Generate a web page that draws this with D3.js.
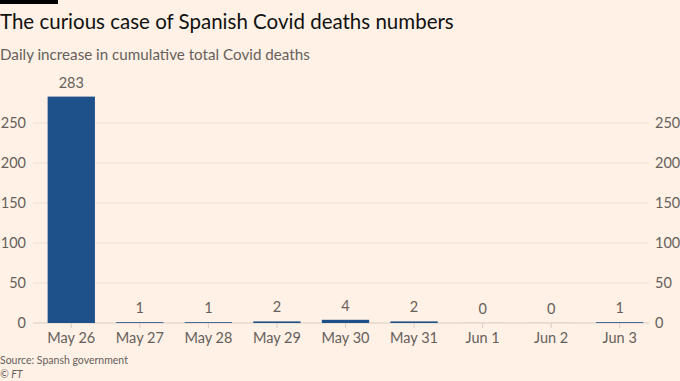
<!DOCTYPE html>
<html>
<head>
<meta charset="utf-8">
<script src="https://cdn.jsdelivr.net/npm/d3@7"></script>
<style>
  body { margin: 0; background: #fff1e5; }
  svg { display: block; font-family: Lato, sans-serif; }
</style>
</head>
<body>
<svg id="svg" width="680" height="381"></svg>
<script>
// Data
var days = ["May 26", "May 27", "May 28", "May 29", "May 30", "May 31", "Jun 1", "Jun 2", "Jun 3"];
var deaths = [283, 1, 1, 2, 4, 2, 0, 0, 1];
var yTicks = [0, 50, 100, 150, 200, 250];

var svg = d3.select("svg");

// Scales
var x = d3.scaleBand()
    .domain(days)
    .range([37, 654])
    .paddingInner(0.31)
    .paddingOuter(0.155);

var y = d3.scaleLinear()
    .domain([0, 250])
    .range([323, 123]);

// FT black tab
svg.append("rect").attr("x", 0).attr("y", 0).attr("width", 58).attr("height", 4).attr("fill", "#000");

// Titles
svg.append("text").attr("x", 0).attr("y", 29)
    .attr("font-size", 20.5).attr("fill", "#111")
    .text("The curious case of Spanish Covid deaths numbers");
svg.append("text").attr("x", 0).attr("y", 60)
    .attr("font-size", 15.2).attr("fill", "#66605c")
    .text("Daily increase in cumulative total Covid deaths");

// Grid lines
svg.append("g").selectAll("line")
    .data(yTicks)
    .join("line")
    .attr("x1", 33).attr("x2", 649)
    .attr("y1", d => y(d)).attr("y2", d => y(d))
    .attr("stroke", d => d === 0 ? "#d9ccc1" : "#ebdfd4")
    .attr("stroke-width", 1);

// Left and right y labels
var leftAxis = svg.append("g")
    .attr("transform", "translate(26,0)")
    .call(d3.axisLeft(y).tickValues(yTicks).tickSize(0).tickPadding(0));
var rightAxis = svg.append("g")
    .attr("transform", "translate(655,0)")
    .call(d3.axisRight(y).tickValues(yTicks).tickSize(0).tickPadding(0));
[leftAxis, rightAxis].forEach(function (a) {
    a.select(".domain").remove();
    a.selectAll("text").attr("font-size", 14.5).attr("fill", "#66605c").attr("font-family", "Lato, sans-serif");
});

// Bars
svg.append("g").selectAll("rect")
    .data(days)
    .join("rect")
    .attr("x", d => x(d))
    .attr("width", x.bandwidth())
    .attr("y", (d, i) => deaths[i] === 0 ? y(0) - 1 : y(deaths[i]))
    .attr("height", (d, i) => deaths[i] === 0 ? 1 : y(0) - y(deaths[i]))
    .attr("fill", (d, i) => deaths[i] === 0 ? "#e6d9ce" : "#1e5189");

// Value labels
svg.append("g").selectAll("text")
    .data(days)
    .join("text")
    .attr("x", d => x(d) + x.bandwidth() / 2)
    .attr("y", (d, i) => y(deaths[i]) - 9)
    .attr("text-anchor", "middle")
    .attr("font-size", 14.5)
    .attr("fill", "#66605c")
    .text((d, i) => deaths[i]);

// X axis
var xAxis = svg.append("g")
    .attr("transform", "translate(0,323)")
    .call(d3.axisBottom(x).tickSize(5).tickPadding(5));
xAxis.select(".domain").remove();
xAxis.selectAll("line").attr("stroke", "#d9ccc1");
xAxis.selectAll("text").attr("font-size", 14.5).attr("fill", "#66605c").attr("font-family", "Lato, sans-serif");

// Source
svg.append("text").attr("x", 0).attr("y", 364)
    .attr("font-size", 10.5).attr("fill", "#66605c")
    .text("Source: Spansh government");
svg.append("text").attr("x", 0).attr("y", 378)
    .attr("font-size", 10.5).attr("fill", "#66605c").attr("font-style", "italic")
    .text("© FT");
</script>
</body>
</html>
